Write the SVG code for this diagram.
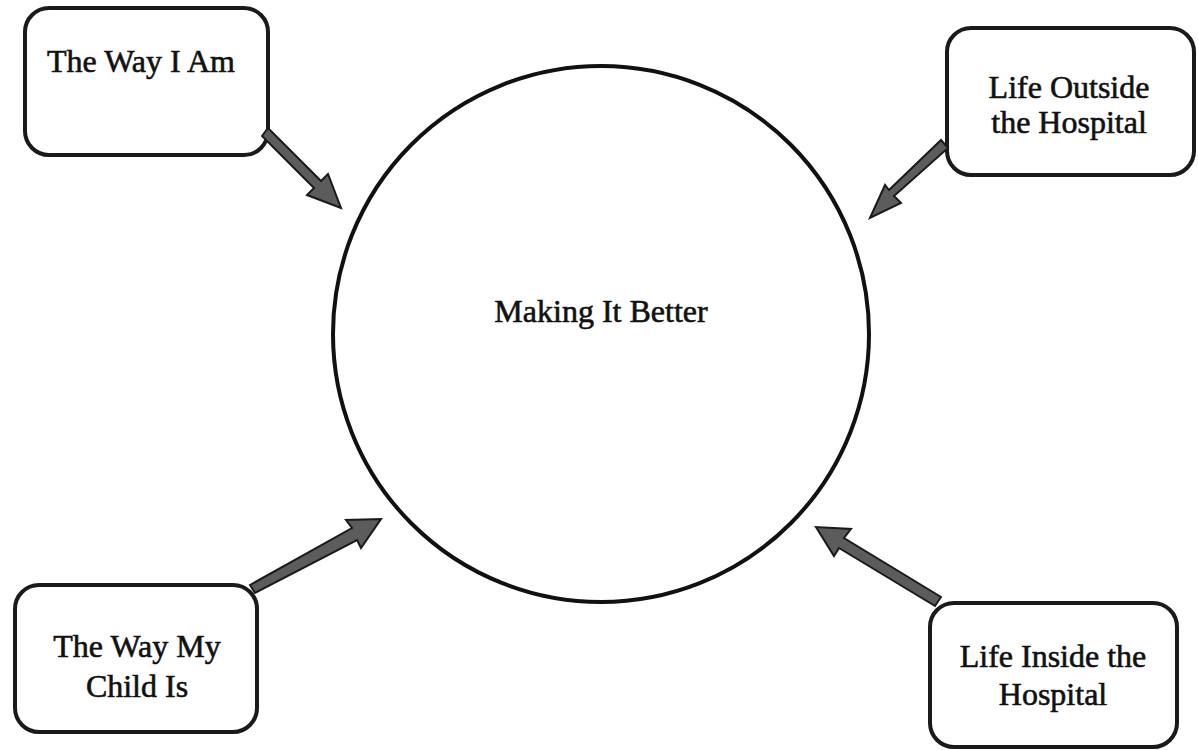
<svg xmlns="http://www.w3.org/2000/svg" width="1198" height="750" viewBox="0 0 1198 750">
  <style>
    .box { fill: #ffffff; stroke: #1a1a1a; stroke-width: 4; }
    .hub { fill: #ffffff; stroke: #111111; stroke-width: 4; }
    .label { font-family: "Liberation Serif", "Times New Roman", serif; font-size: 32px; fill: #111111; text-anchor: middle; stroke: #111111; stroke-width: 0.6; }
    .arrow { fill: #5c5c5c; stroke: #1a1a1a; stroke-width: 2; stroke-linejoin: miter; }
  </style>
  <rect width="1198" height="750" fill="#ffffff"/>

  <g id="hub">
    <ellipse class="hub" cx="601" cy="334" rx="268" ry="268"/>
    <text class="label" x="601" y="322">Making It Better</text>
  </g>

  <g id="node-way-i-am">
    <rect class="box" x="25" y="8" width="243" height="147" rx="24" ry="24"/>
    <text class="label" x="141" y="72">The Way I Am</text>
  </g>

  <g id="node-life-outside">
    <rect class="box" x="947" y="28" width="247" height="147" rx="24" ry="24"/>
    <text class="label" x="1069" y="98">Life Outside</text>
    <text class="label" x="1069" y="133">the Hospital</text>
  </g>

  <g id="node-way-my-child">
    <rect class="box" x="15" y="585" width="242" height="147" rx="24" ry="24"/>
    <text class="label" x="137" y="657">The Way My</text>
    <text class="label" x="137" y="697">Child Is</text>
  </g>

  <g id="node-life-inside">
    <rect class="box" x="930" y="603" width="247" height="144" rx="24" ry="24"/>
    <text class="label" x="1053" y="667">Life Inside the</text>
    <text class="label" x="1053" y="705">Hospital</text>
  </g>

  <g id="connectors">
    <!-- The Way I Am -> hub -->
    <polygon class="arrow" points="262,136 268,128 321,181 328,174 341,208 307,195 314,188"/>
    <!-- Life Outside -> hub -->
    <polygon class="arrow" points="941,140 948,148 894,196 901,203 870,218 885,185 889,190"/>
    <!-- The Way My Child Is -> hub -->
    <polygon class="arrow" points="250,585 255,593 357,540 361,548 381,519 346,520 352,528"/>
    <!-- Life Inside the Hospital -> hub -->
    <polygon class="arrow" points="941,597 935,606 839,548 834,556 816,527 851,529 844,538"/>
  </g>
</svg>
